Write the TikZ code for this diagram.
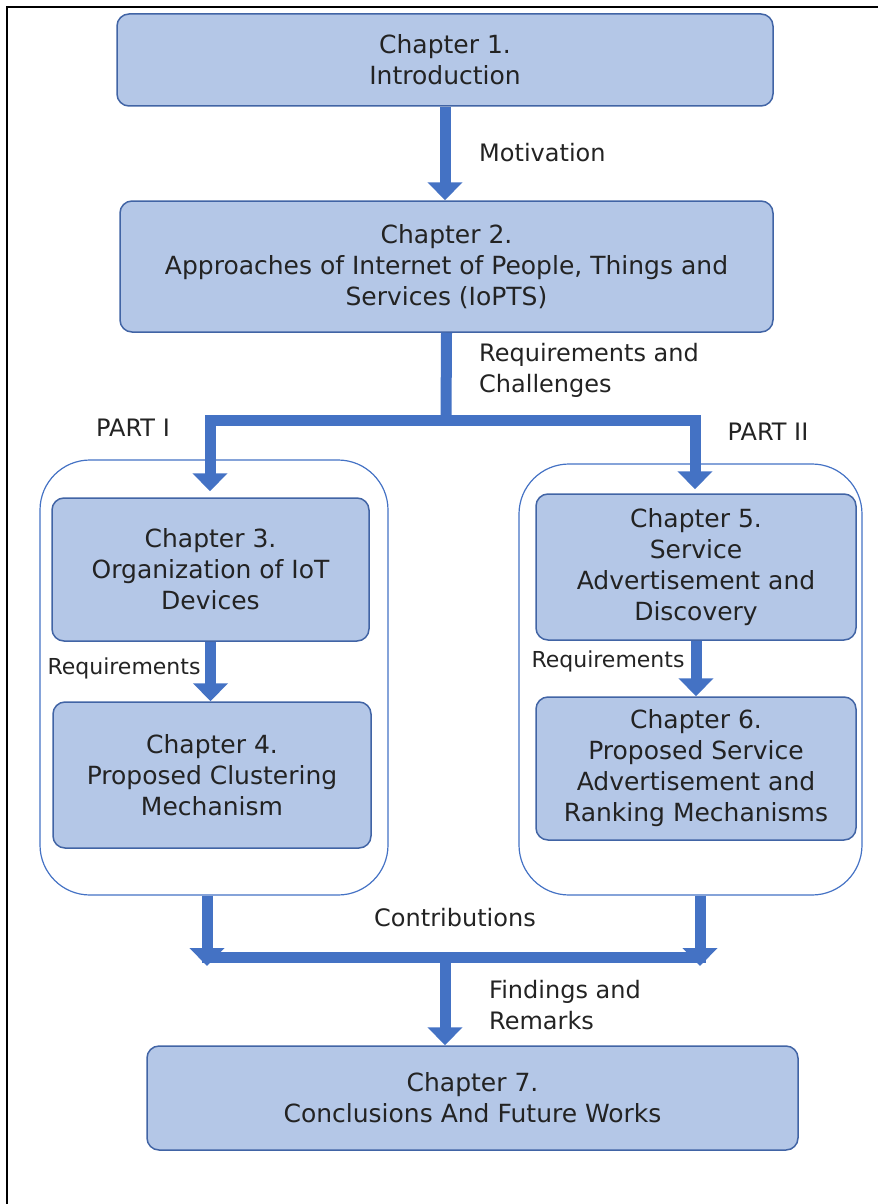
\documentclass[tikz,border=0pt]{standalone}
\usepackage{fontspec}
\setmainfont{DejaVu Sans}
\usetikzlibrary{arrows.meta}
\definecolor{chapfill}{RGB}{180,199,231}
\definecolor{chapline}{RGB}{65,100,165}
\definecolor{flowblue}{RGB}{68,114,196}
\definecolor{ink}{RGB}{35,35,35}

\begin{document}
\begin{tikzpicture}[x=1pt,y=-1pt,
    chapter/.style={draw=chapline,line width=1.5pt,fill=chapfill,rounded corners=12pt,
      align=center,text=ink,inner sep=0pt,font=\fontsize{25}{31}\selectfont},
    part/.style={draw=flowblue,line width=1.2pt,rounded corners=50pt,inner sep=0pt},
    flow/.style={draw=flowblue,line width=11pt},
    flowarrow/.style={flow,-{Triangle[width=34pt,length=18pt]}},
    lbl/.style={text=ink,align=left,inner sep=0pt,font=\fontsize{24}{31}\selectfont},
    inlbl/.style={text=ink,inner sep=0pt,font=\fontsize{22}{31}\selectfont}]
  \useasboundingbox (0,0) rectangle (878,1204);
  \draw[line width=2pt] (7,1204) -- (7,7) -- (878,7);
  % the two parts
  \node[part,minimum width=348pt,minimum height=435pt] (part1) at (214,677.5) {};
  \node[part,minimum width=343pt,minimum height=431pt] (part2) at (690.5,679.5) {};
  % chapters
  \node[chapter,minimum width=656pt,minimum height=92pt] (ch1) at (445,60) {Chapter 1.\\Introduction};
  \node[chapter,minimum width=653pt,minimum height=131pt] (ch2) at (446.5,266.5)
    {Chapter 2.\\Approaches of Internet of People, Things and\\Services (IoPTS)};
  \node[chapter,minimum width=317pt,minimum height=143pt] (ch3) at (210.5,569.5)
    {Chapter 3.\\Organization of IoT\\Devices};
  \node[chapter,minimum width=318pt,minimum height=146pt] (ch4) at (212,775)
    {Chapter 4.\\Proposed Clustering\\Mechanism};
  \node[chapter,minimum width=320pt,minimum height=146pt] (ch5) at (696,567)
    {Chapter 5.\\Service\\Advertisement and\\Discovery};
  \node[chapter,minimum width=320pt,minimum height=143pt] (ch6) at (696,768.5)
    {Chapter 6.\\Proposed Service\\Advertisement and\\Ranking Mechanisms};
  \node[chapter,minimum width=651pt,minimum height=104pt] (ch7) at (472.5,1098)
    {Chapter 7.\\Conclusions And Future Works};
  % labels
  \node[lbl,anchor=west] (motiv) at (479,153) {Motivation};
  \node[lbl,anchor=west] (reqch) at (479,370) {Requirements and\\Challenges};
  \node[lbl] (part1lbl) at (133,428) {PART I};
  \node[lbl] (part2lbl) at (768,432) {PART II};
  \node[inlbl] (req1) at (124,668) {Requirements};
  \node[inlbl] (req2) at (608,661) {Requirements};
  \node[lbl] (contrib) at (455,918) {Contributions};
  \node[lbl,anchor=west] (finds) at (489,1005) {Findings and\\Remarks};
  % connectors
  \coordinate (split) at (446,420);
  \coordinate (splitL) at (210,420);
  \coordinate (splitR) at (695,420);
  \coordinate (join) at (445,957);
  \coordinate (tipL) at (207,966);
  \coordinate (tipR) at (700,966);
  \draw[flowarrow] (ch1.south) -- (ch1.south |- ch2.north);
  \draw[flow] (ch2.south) -- (split);
  \draw[flow,line cap=rect] (splitL) -- (splitR);
  \draw[flowarrow,shorten >=6pt] (splitL) -- (splitL |- ch3.north);
  \draw[flowarrow,shorten >=4pt] (splitR) -- (splitR |- ch5.north);
  \draw[flowarrow] (ch3.south) -- (ch3.south |- ch4.north);
  \draw[flowarrow] (ch5.south) -- (ch5.south |- ch6.north);
  \draw[flow,line cap=rect] (tipL |- join) -- (tipR |- join);
  \draw[flowarrow] (tipL |- part1.south) -- (tipL);
  \draw[flowarrow] (tipR |- part2.south) -- (tipR);
  \draw[flowarrow] (join) -- (join |- ch7.north);
\end{tikzpicture}
\end{document}
